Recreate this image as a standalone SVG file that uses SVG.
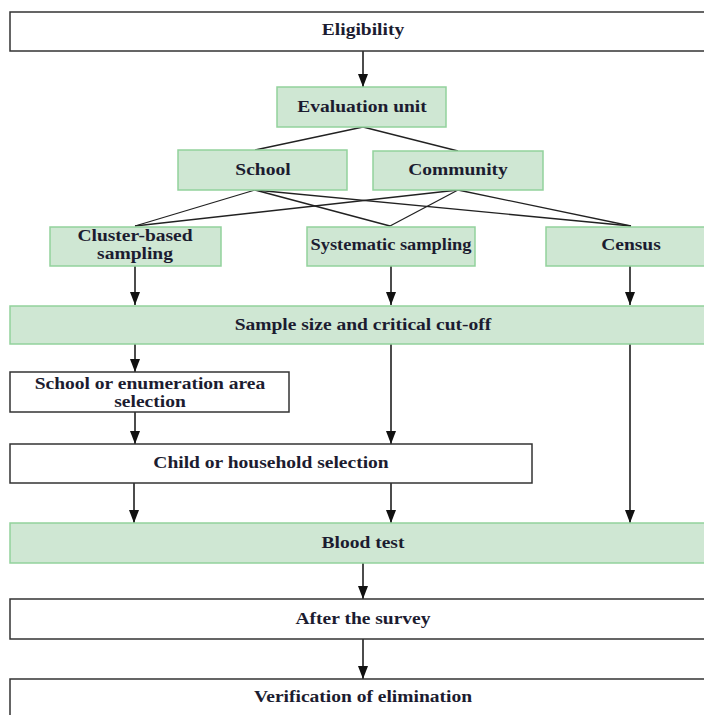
<svg xmlns="http://www.w3.org/2000/svg" width="704" height="715" viewBox="0 0 704 715">
<defs>
<marker id="ah" markerUnits="userSpaceOnUse" markerWidth="14" markerHeight="11" refX="13" refY="5" orient="auto" viewBox="0 0 14 10">
<path d="M0,0 L13,5 L0,10 Z" fill="#111"/>
</marker>
</defs>
<style>
.g{fill:#cfe7d3;stroke:#92d29c;stroke-width:1.5}
.w{fill:#fff;stroke:#333;stroke-width:1.5}
.t{font-family:"Liberation Serif","Times New Roman",serif;font-weight:bold;font-size:16px;fill:#1c1c30;text-anchor:middle}
.c{stroke:#222;stroke-width:1.3;fill:none}
.a{stroke:#111;stroke-width:1.5;fill:none;marker-end:url(#ah)}
</style>
<rect width="704" height="715" fill="#fff"/>
<g id="connectors">
<line class="a" x1="363" y1="51" x2="363" y2="87"/>
<line class="c" x1="363" y1="127" x2="255" y2="150"/>
<line class="c" x1="363" y1="127" x2="458" y2="151"/>
<line class="c" x1="255" y1="190" x2="135" y2="226"/>
<line class="c" x1="255" y1="190" x2="390" y2="226"/>
<line class="c" x1="255" y1="190" x2="631" y2="226"/>
<line class="c" x1="458" y1="190" x2="135" y2="226"/>
<line class="c" x1="458" y1="190" x2="390" y2="226"/>
<line class="c" x1="458" y1="190" x2="631" y2="226"/>
<line class="a" x1="135" y1="266" x2="135" y2="305"/>
<line class="a" x1="391" y1="266" x2="391" y2="305"/>
<line class="a" x1="630" y1="266" x2="630" y2="305"/>
<line class="a" x1="135" y1="344" x2="135" y2="372"/>
<line class="a" x1="391" y1="344" x2="391" y2="444"/>
<line class="a" x1="135" y1="412" x2="135" y2="444"/>
<line class="a" x1="630" y1="344" x2="630" y2="523"/>
<line class="a" x1="134" y1="483" x2="134" y2="523"/>
<line class="a" x1="391" y1="483" x2="391" y2="523"/>
<line class="a" x1="363" y1="563" x2="363" y2="599"/>
<line class="a" x1="363" y1="639" x2="363" y2="679"/>
</g>
<g id="eligibility">
<rect class="w" x="10" y="12" width="710" height="39"/>
<text class="t" transform="translate(363,35) scale(1.22,1)">Eligibility</text>
</g>
<g id="evaluation-unit">
<rect class="g" x="277" y="87" width="169" height="40"/>
<text class="t" transform="translate(362,112) scale(1.22,1)">Evaluation unit</text>
</g>
<g id="school">
<rect class="g" x="178" y="150" width="169" height="40"/>
<text class="t" transform="translate(263,175) scale(1.22,1)">School</text>
</g>
<g id="community">
<rect class="g" x="373" y="151" width="170" height="39"/>
<text class="t" transform="translate(458,175) scale(1.22,1)">Community</text>
</g>
<g id="cluster-based">
<rect class="g" x="50" y="227" width="171" height="39"/>
<text class="t" transform="translate(135,241) scale(1.22,1)">Cluster-based</text>
<text class="t" transform="translate(135,259) scale(1.22,1)">sampling</text>
</g>
<g id="systematic">
<rect class="g" x="307" y="227" width="168" height="39"/>
<text class="t" transform="translate(391,250) scale(1.15,1)">Systematic sampling</text>
</g>
<g id="census">
<rect class="g" x="546" y="227" width="170" height="39"/>
<text class="t" transform="translate(631,250) scale(1.22,1)">Census</text>
</g>
<g id="sample-size">
<rect class="g" x="10" y="306" width="710" height="38"/>
<text class="t" transform="translate(363,330) scale(1.22,1)">Sample size and critical cut-off</text>
</g>
<g id="school-selection">
<rect class="w" x="10" y="372" width="279" height="40"/>
<text class="t" transform="translate(150,389) scale(1.22,1)">School or enumeration area</text>
<text class="t" transform="translate(150,407) scale(1.22,1)">selection</text>
</g>
<g id="child-selection">
<rect class="w" x="10" y="444" width="522" height="39"/>
<text class="t" transform="translate(271,468) scale(1.22,1)">Child or household selection</text>
</g>
<g id="blood-test">
<rect class="g" x="10" y="523" width="710" height="40"/>
<text class="t" transform="translate(363,548) scale(1.22,1)">Blood test</text>
</g>
<g id="after-survey">
<rect class="w" x="10" y="599" width="710" height="40"/>
<text class="t" transform="translate(363,624) scale(1.22,1)">After the survey</text>
</g>
<g id="verification">
<rect class="w" x="10" y="679" width="710" height="50"/>
<text class="t" transform="translate(363,702) scale(1.22,1)">Verification of elimination</text>
</g>
</svg>
